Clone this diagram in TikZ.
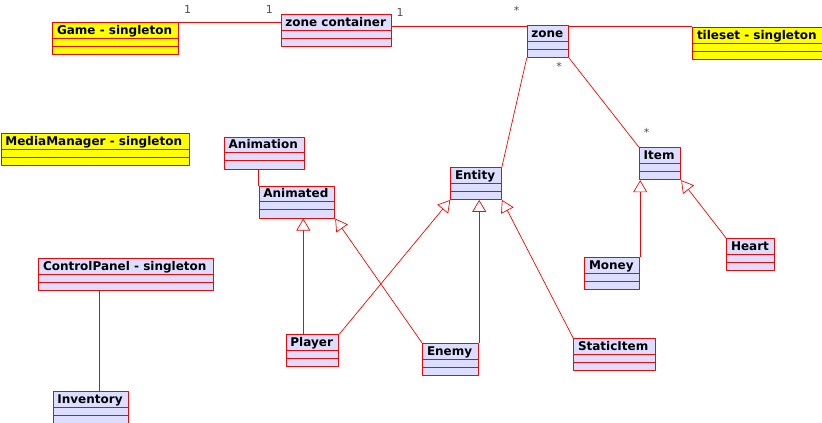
\documentclass[tikz,border=0pt]{standalone}
\usepackage{fontspec}
\setmainfont{DejaVu Sans}
\usetikzlibrary{arrows.meta}
\definecolor{lav}{RGB}{221,221,255}
\definecolor{yel}{RGB}{255,255,0}
\definecolor{umlred}{RGB}{255,0,0}
\definecolor{mult}{RGB}{80,80,80}
\begin{document}
\begin{tikzpicture}[x=1pt,y=-1pt,line join=round,
	cls/.style={draw=umlred,line width=.9pt,inner sep=0pt,minimum height=32pt,anchor=north west},
	clsname/.style={anchor=base west,inner sep=0pt,font=\fontsize{12}{14}\selectfont\bfseries},
	rel/.style={draw=umlred,line width=.7pt},
	inh/.style={rel,-{Triangle[open,length=12pt,width=14pt,fill=white]}},
	mul/.style={text=mult,inner sep=0pt,font=\fontsize{11}{13}\selectfont}]
	\useasboundingbox (0,0) rectangle (822,423);
	\foreach \n/\x/\y/\w/\c/\t in {Game/52.3/22.3/126/yel/Game - singleton,
		zonecont/280.7/14.3/110.6/lav/zone container,
		zone/526.7/25.3/41.6/lav/zone,
		tileset/692.3/27.3/131/yel/tileset - singleton,
		media/0.7/133.3/188/yel/MediaManager - singleton,
		Animation/224/136.7/80.3/lav/Animation,
		Animated/258.7/185.7/75.6/lav/Animated,
		Entity/450.3/167/50.7/lav/Entity,
		Item/639/147.3/41.3/lav/Item,
		Money/584.3/257/55/lav/Money,
		Heart/726.3/238.3/48/lav/Heart,
		panel/38.3/258.3/175/lav/ControlPanel - singleton,
		Player/285.7/334.3/52.6/lav/Player,
		Enemy/422.3/343.3/56/lav/Enemy,
		StaticItem/573.3/338.3/81.4/lav/StaticItem,
		Inventory/52.7/391.3/75.6/lav/Inventory}{
		\node[cls,fill=\c,minimum width=\w] (\n) at (\x,\y) {};
		\node[clsname] (\n-t) at ([xshift=4.5,yshift=-12]\n.north west) {\t};
		\draw[umlred,line width=.9pt] ([yshift=-16]\n.north west)--([yshift=-16]\n.north east)
			([yshift=-24]\n.north west)--([yshift=-24]\n.north east);
	}
	\draw[rel] (Game.north east)--(Game.north east -| zonecont.west);
	\draw[rel] ([yshift=-1.2]zone.north west -| zonecont.east)--([yshift=-1.2]zone.north west);
	\draw[rel] ([yshift=-1.2]zone.north east)--([yshift=-1.2]zone.north east -| tileset.west);
	\draw[rel] (zone.south west)--(Entity.north east);
	\draw[rel] (zone.south east)--(Item.north west);
	\draw[rel] (Animated.north west)--(Animated.north west |- Animation.south);
	\draw[rel] ([xshift=46.6]Inventory.north west)--([xshift=46.6]Inventory.north west |- panel.south);
	\draw[inh] ([xshift=17.6]Player.north west)--([xshift=17.6]Player.north west |- Animated.south);
	\draw[inh] (Player.north east)--(Entity.south west);
	\draw[inh] (Enemy.north west)--(Animated.south east);
	\draw[inh] (Enemy.north east)--(Enemy.north east |- Entity.south);
	\draw[inh] (StaticItem.north west)--(Entity.south east);
	\draw[inh] (Money.north east)--(Money.north east |- Item.south);
	\draw[inh] (Heart.north west)--(Item.south east);
	\foreach \m/\x/\y/\t in {m1/187.7/9.5/1,m2/269.3/9.5/1,m3/400/12.7/1,m4/516.7/10.7/*,m5/559/66.7/*,m6/646.7/132/*}
		\node[mul] (\m) at (\x,\y) {\t};
\end{tikzpicture}
\end{document}
